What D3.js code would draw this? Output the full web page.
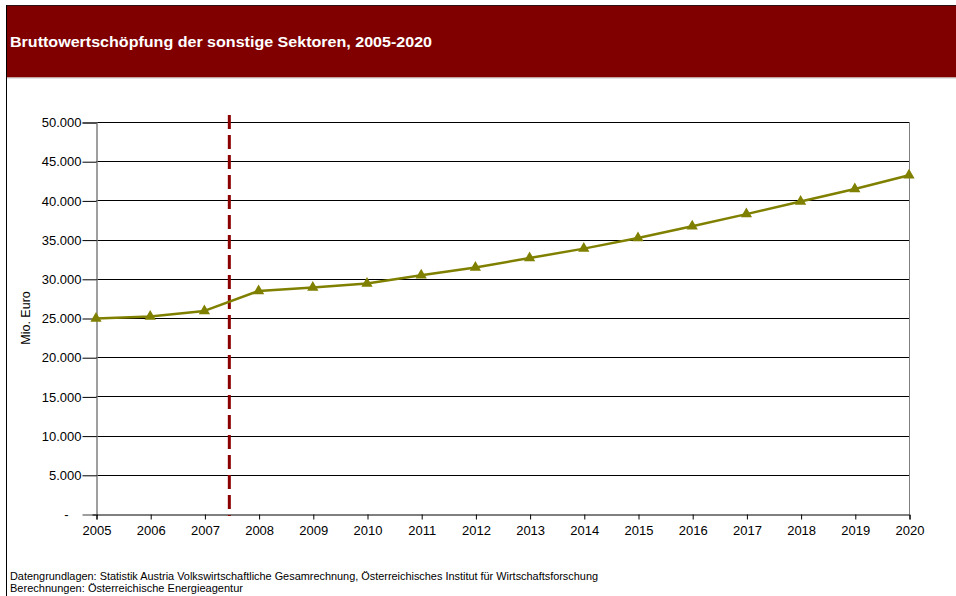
<!DOCTYPE html>
<html>
<head>
<meta charset="utf-8">
<script src="https://cdn.jsdelivr.net/npm/d3@7"></script>
<style>
  html, body { margin: 0; padding: 0; background: #fff; }
  svg { display: block; font-family: "Liberation Sans", Arial, sans-serif; }
</style>
</head>
<body>
<svg id="chart" width="956" height="596"></svg>
<script>
// Bruttowertschöpfung (Mio. Euro), sonstige Sektoren
const years = [2005, 2006, 2007, 2008, 2009, 2010, 2011, 2012, 2013, 2014, 2015, 2016, 2017, 2018, 2019, 2020];
const values = [24950, 25200, 25900, 28450, 28900, 29400, 30450, 31450, 32650, 33850, 35200, 36700, 38250, 39850, 41450, 43200];
const yTicks = [0, 5000, 10000, 15000, 20000, 25000, 30000, 35000, 40000, 45000, 50000];
// boundary between historical data and projection
const splitYear = 2007.46;

const titleText = "Bruttowertschöpfung der sonstige Sektoren, 2005-2020";
const yAxisTitle = "Mio. Euro";
const sourceLines = [
  "Datengrundlagen: Statistik Austria Volkswirtschaftliche Gesamrechnung, Österreichisches Institut für Wirtschaftsforschung",
  "Berechnungen: Österreichische Energieagentur"
];

const svg = d3.select("#chart");
const W = 956, H = 596;
const plot = { left: 96, right: 909, top: 122, bottom: 514 };

// header band and frame
svg.append("rect").attr("x", 6).attr("y", 5.5).attr("width", W - 6).attr("height", 72)
  .attr("fill", "#800000");
svg.append("line").attr("x1", 6).attr("x2", W).attr("y1", 5.5).attr("y2", 5.5)
  .attr("stroke", "#2a1010").attr("stroke-width", 1);
svg.append("line").attr("x1", 6).attr("x2", W).attr("y1", 78).attr("y2", 78)
  .attr("stroke", "#c8c8c8").attr("stroke-width", 1);
svg.append("line").attr("x1", 6.5).attr("x2", 6.5).attr("y1", 5).attr("y2", H)
  .attr("stroke", "#000").attr("stroke-width", 1);

svg.append("text").attr("x", 10).attr("y", 47)
  .attr("fill", "#fff").attr("font-weight", "bold").attr("font-size", 15)
  .attr("textLength", 422).attr("lengthAdjust", "spacingAndGlyphs")
  .text(titleText);

const x = d3.scaleLinear().domain([years[0], years[years.length - 1]]).range([plot.left, plot.right]);
const y = d3.scaleLinear().domain([0, 50000]).range([plot.bottom, plot.top]);

const fmt = v => v === 0 ? "-" : d3.format(",")(v).replace(/,/g, ".");

// horizontal gridlines
svg.append("g").selectAll("line").data(yTicks.filter(v => v > 0)).join("line")
  .attr("x1", plot.left).attr("x2", plot.right)
  .attr("y1", d => Math.round(y(d)) + 0.5).attr("y2", d => Math.round(y(d)) + 0.5)
  .attr("stroke", "#000").attr("stroke-width", 1);

// right plot edge
svg.append("line").attr("x1", plot.right + 0.5).attr("x2", plot.right + 0.5)
  .attr("y1", plot.top).attr("y2", plot.bottom)
  .attr("stroke", "#808080").attr("stroke-width", 1);

// y axis
const yAxis = d3.axisLeft(y).tickValues(yTicks).tickFormat(fmt).tickSize(14).tickPadding(1);
const gy = svg.append("g").attr("transform", `translate(${plot.left + 0.5},0.5)`).call(yAxis);
gy.select(".domain").attr("stroke", "#808080").attr("stroke-width", 1.5);
gy.selectAll(".tick line").attr("stroke", "#000")
  .attr("x2", d => d === 0 ? -4 : -14);
gy.selectAll(".tick text").attr("font-size", 13).attr("fill", "#000")
  .attr("font-family", "Liberation Sans, Arial, sans-serif")
  .attr("x", d => d === 0 ? -28 : -15);

// x axis
const xAxis = d3.axisBottom(x).tickValues(years).tickFormat(d3.format("d")).tickSize(5).tickPadding(6);
const gx = svg.append("g").attr("transform", `translate(0.5,${plot.bottom + 0.5})`).call(xAxis);
gx.select(".domain").attr("stroke", "#000").attr("stroke-width", 1);
gx.selectAll(".tick line").attr("stroke", "#000");
gx.selectAll(".tick text").attr("font-size", 13).attr("fill", "#000")
  .attr("font-family", "Liberation Sans, Arial, sans-serif");

// y axis title
svg.append("text")
  .attr("transform", `translate(30,${(plot.top + plot.bottom) / 2}) rotate(-90)`)
  .attr("text-anchor", "middle").attr("font-size", 12.5).attr("fill", "#000")
  .text(yAxisTitle);

// split marker
svg.append("line")
  .attr("x1", x(splitYear)).attr("x2", x(splitYear))
  .attr("y1", 115).attr("y2", plot.bottom + 2)
  .attr("stroke", "#8b0000").attr("stroke-width", 3)
  .attr("stroke-dasharray", "14,6");

// series
const pts = years.map((yr, i) => [yr, values[i]]);
svg.append("path").datum(pts)
  .attr("fill", "none").attr("stroke", "#808000").attr("stroke-width", 2.5)
  .attr("stroke-linejoin", "round")
  .attr("d", d3.line().x(d => x(d[0])).y(d => y(d[1])));

const tri = d3.symbol().type(d3.symbolTriangle).size(55);
svg.append("g").selectAll("path").data(pts).join("path")
  .attr("transform", d => `translate(${x(d[0])},${y(d[1])})`)
  .attr("d", tri).attr("fill", "#808000");

// source notes
const srcLen = [588, 233];
svg.append("g").selectAll("text").data(sourceLines).join("text")
  .attr("x", 10).attr("y", (d, i) => 580 + i * 12)
  .attr("font-size", 11).attr("fill", "#000")
  .attr("textLength", (d, i) => srcLen[i]).attr("lengthAdjust", "spacingAndGlyphs")
  .text(d => d);
</script>
</body>
</html>
